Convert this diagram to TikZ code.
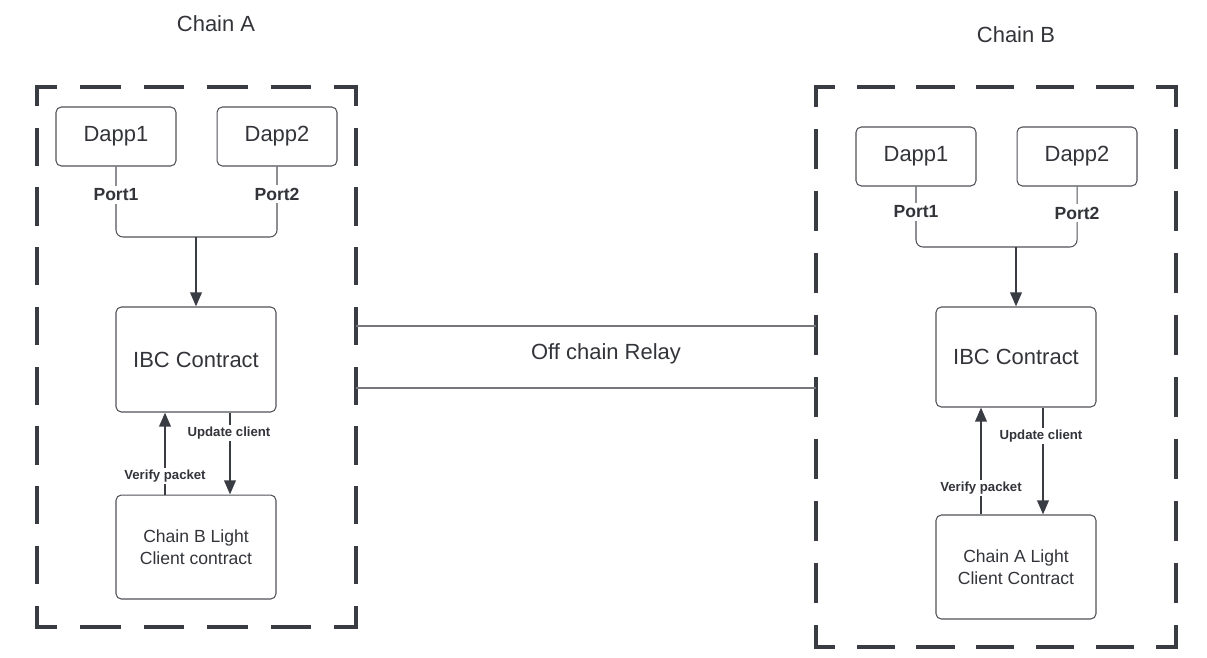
\documentclass[tikz,border=0pt]{standalone}
\usepackage{fontspec}
\setmainfont{Liberation Sans}
\usetikzlibrary{arrows.meta,positioning}
\definecolor{ink}{RGB}{50,52,58}
\definecolor{boxgray}{RGB}{80,82,88}
\definecolor{dashgray}{RGB}{58,60,68}
\definecolor{relaygray}{RGB}{120,120,124}

\begin{document}
\begin{tikzpicture}[x=0.02cm,y=-0.02cm,>={Triangle[length=8pt,width=6.5pt]},
                    text=ink,line width=0.6pt]
  \tikzstyle{chainbox}=[inner sep=0pt,outer sep=0pt]
  \tikzstyle{chainedge}=[draw=dashgray,line width=2.3pt,line cap=rect]
  \tikzstyle{dapp}=[draw=boxgray,rounded corners=3pt,minimum width=2.4cm,
                    minimum height=1.18cm,font=\fontsize{12.5}{15}\selectfont]
  \tikzstyle{contract}=[draw=boxgray,rounded corners=3pt,minimum width=3.2cm,
                        align=center,font=\fontsize{12.5}{15}\selectfont]
  \tikzstyle{light}=[contract,minimum height=2.08cm,font=\fontsize{10}{12.5}\selectfont]
  \tikzstyle{port}=[fill=white,inner sep=1.5pt,font=\fontsize{10}{12}\selectfont\bfseries]
  \tikzstyle{call}=[fill=white,inner sep=1pt,font=\fontsize{7.5}{9}\selectfont\bfseries]
  \tikzstyle{chaintitle}=[font=\fontsize{12.5}{15}\selectfont]
  \tikzstyle{portline}=[draw=boxgray,rounded corners=4pt]
  \tikzstyle{flow}=[draw=dashgray,line width=1.3pt,->]

  \useasboundingbox (0,0) rectangle (1207,658);

  % chain A
  \node[chainbox,minimum width=6.38cm,minimum height=10.8cm] (chainA) at (196.5,357) {};
  \node[chaintitle]                       (titleA) at (216,24)       {Chain A};
  \node[dapp]                             (dappA1) at (116,136.5)    {Dapp1};
  \node[dapp]                             (dappA2) [right=0.8cm of dappA1] {Dapp2};
  \node[contract,minimum height=2.1cm]    (ibcA)   at (196,359.5)    {IBC Contract};
  \node[light]                            (lightA) [below=1.64cm of ibcA]
                                                   {Chain B Light\\Client contract};
  \coordinate (mergeA)  at (196,237);
  \coordinate (verifyA) at (165,0);
  \coordinate (updateA) at (230,0);

  % chain B
  \node[chainbox,minimum width=7.2cm,minimum height=11.2cm] (chainB) at (996,367) {};
  \node[chaintitle]                       (titleB) at (1016,35)      {Chain B};
  \node[dapp]                             (dappB1) at (916,156.5)    {Dapp1};
  \node[dapp]                             (dappB2) [right=0.8cm of dappB1] {Dapp2};
  \node[contract,minimum height=2cm]      (ibcB)   at (1016,357)     {IBC Contract};
  \node[light]                            (lightB) [below=2.14cm of ibcB]
                                                   {Chain A Light\\Client Contract};
  \coordinate (mergeB)  at (1016,247);
  \coordinate (verifyB) at (981,0);
  \coordinate (updateB) at (1043,0);

  % dashed chain borders, one dash centred on every corner
  \draw[chainedge,dash pattern=on 20.84pt off 15.32pt,dash phase=10.42pt]
    (chainA.north west) -- (chainA.north east) (chainA.south west) -- (chainA.south east);
  \draw[chainedge,dash pattern=on 19.47pt off 14.54pt,dash phase=9.73pt]
    (chainA.north west) -- (chainA.south west) (chainA.north east) -- (chainA.south east);
  \draw[chainedge,dash pattern=on 19.47pt off 14.55pt,dash phase=9.73pt]
    (chainB.north west) -- (chainB.north east) (chainB.south west) -- (chainB.south east);
  \draw[chainedge,dash pattern=on 20.28pt off 15pt,dash phase=10.14pt]
    (chainB.north west) -- (chainB.south west) (chainB.north east) -- (chainB.south east);

  % ports to IBC
  \draw[portline] (dappA1.south) |- (mergeA) -| (dappA2.south);
  \draw[portline] (dappB1.south) |- (mergeB) -| (dappB2.south);
  \node[port] (portA1) at (dappA1.south |- 0,195) {Port1};
  \node[port] (portA2) at (dappA2.south |- 0,194) {Port2};
  \node[port] (portB1) at (dappB1.south |- 0,212) {Port1};
  \node[port] (portB2) at (dappB2.south |- 0,213) {Port2};
  \path (mergeA) edge[flow] (ibcA.north)
        (mergeB) edge[flow] (ibcB.north);

  % IBC <-> light client
  \path (lightA.north -| verifyA) edge[flow] (ibcA.south -| verifyA)
        (ibcA.south -| updateA)   edge[flow] (lightA.north -| updateA)
        (lightB.north -| verifyB) edge[flow] (ibcB.south -| verifyB)
        (ibcB.south -| updateB)   edge[flow] (lightB.north -| updateB);
  \node[call] (verifyAtxt) at (165,476)  {Verify packet};
  \node[call] (updateAtxt) at (229,433)  {Update client};
  \node[call] (verifyBtxt) at (981,488)  {Verify packet};
  \node[call] (updateBtxt) at (1041,436) {Update client};

  % relay
  \node[chaintitle] (relay) at (606,354) {Off chain Relay};
  \coordinate (relayT) at (606,326);
  \coordinate (relayB) at (606,388);
  \draw[relaygray,line width=0.8pt] (chainA.east |- relayT) -- (chainB.west |- relayT);
  \draw[relaygray,line width=0.8pt] (chainA.east |- relayB) -- (chainB.west |- relayB);
\end{tikzpicture}
\end{document}
